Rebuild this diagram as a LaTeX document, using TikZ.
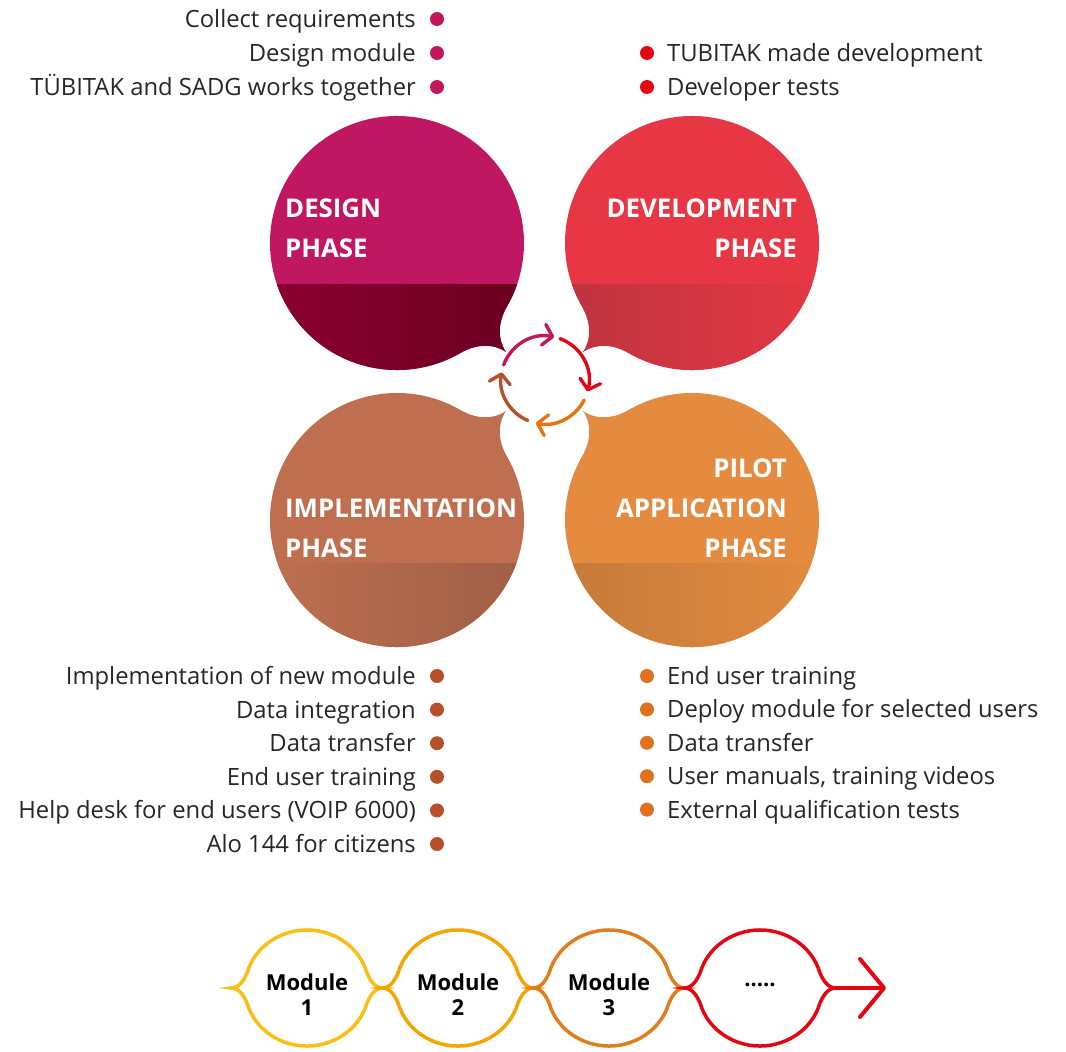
\documentclass[tikz,border=0pt]{standalone}
\usepackage{fontspec}
\setmainfont{Open Sans}
\usetikzlibrary{arrows.meta}

\definecolor{designc}{RGB}{192,23,98}
\definecolor{designlo}{RGB}{140,0,48}
\definecolor{designlo2}{RGB}{104,0,32}
\definecolor{devc}{RGB}{231,55,68}
\definecolor{devlo}{RGB}{188,52,62}
\definecolor{implc}{RGB}{191,111,80}
\definecolor{impllo}{RGB}{157,94,70}
\definecolor{pilotc}{RGB}{228,139,64}
\definecolor{pilotlo}{RGB}{196,122,58}
\definecolor{pinkc}{RGB}{194,24,91}
\definecolor{redc}{RGB}{227,6,19}
\definecolor{orangec}{RGB}{232,114,12}
\definecolor{brownc}{RGB}{181,80,42}
\definecolor{pilotdot}{RGB}{224,112,30}
\definecolor{modA}{RGB}{251,190,20}
\definecolor{modB}{RGB}{245,165,0}
\definecolor{modC}{RGB}{224,125,30}

% circle with a tail towards the middle (pointing down right)
\newcommand\blobpath{(60:127) arc[start angle=60,end angle=390,radius=127]
  .. controls (101,79) and (100,96) .. (109,109)
  .. controls (96,100) and (79,101) .. (60:127) -- cycle}
% one loop of the module chain
\newcommand\looppath{(-75.5,0) .. controls (-68,0) and (-62,-8) .. (200:62 and 58)
  arc[start angle=200,end angle=340,x radius=62,y radius=58]
  .. controls (62,-8) and (68,0) .. (75.5,0)
  .. controls (68,0) and (62,8) .. (20:62 and 58)
  arc[start angle=20,end angle=160,x radius=62,y radius=58]
  .. controls (-62,8) and (-68,0) .. (-75.5,0) -- cycle}

\begin{document}
\begin{tikzpicture}[x=1pt,y=-1pt,
    phase/.style={text=white,font=\bfseries\fontsize{25.8}{40}\selectfont,inner sep=0pt},
    item/.style={font=\fontsize{23.8}{28}\selectfont,text=black!85,inner sep=0pt},
    dot/.style={circle,inner sep=0pt,minimum size=14pt},
    ringarrow/.style={line width=3.4pt,line cap=round,-{Straight Barb[length=9pt,width=21pt,round]}},
    loopline/.style={line width=3.5pt},
    modtext/.style={font=\bfseries\fontsize{22}{25}\selectfont,align=center,inner sep=0pt}]
  \useasboundingbox (0,0) rectangle (1066,1052);

  % the four phases
  \fill[designc,shift={(397,243)}] \blobpath;
  \begin{scope}
    \clip[shift={(397,243)}] \blobpath;
    \shade[left color=designlo,right color=designlo2] (260,284) rectangle (540,390);
  \end{scope}
  \fill[devc,shift={(692,243)},xscale=-1] \blobpath;
  \begin{scope}
    \clip[shift={(692,243)},xscale=-1] \blobpath;
    \shade[left color=devlo,right color=devc] (555,284) rectangle (830,390);
  \end{scope}
  \fill[implc,shift={(397,520)},yscale=-1] \blobpath;
  \begin{scope}
    \clip[shift={(397,520)},yscale=-1] \blobpath;
    \shade[left color=implc,right color=impllo] (260,563) rectangle (540,660);
  \end{scope}
  \fill[pilotc,shift={(692,520)},xscale=-1,yscale=-1] \blobpath;
  \begin{scope}
    \clip[shift={(692,520)},xscale=-1,yscale=-1] \blobpath;
    \shade[left color=pilotlo,right color=pilotc] (555,563) rectangle (830,660);
  \end{scope}

  \node[phase,anchor=west,align=left] (design) at (285,228) {DESIGN\\PHASE};
  \node[phase,anchor=east,align=right] (develop) at (797,228) {DEVELOPMENT\\PHASE};
  \node[phase,anchor=west,align=left] (implement) at (285,528) {IMPLEMENTATION\\PHASE};
  \node[phase,anchor=east,align=right] (pilot) at (787,508) {PILOT\\APPLICATION\\PHASE};

  % cycle in the middle
  \coordinate (ring) at (545,380);
  \draw[ringarrow,pinkc] ([shift={(200:44)}]ring) arc[start angle=200,end angle=282,radius=44];
  \draw[ringarrow,redc] ([shift={(290:44)}]ring) arc[start angle=290,end angle=375,radius=44];
  \draw[ringarrow,orangec] ([shift={(27:44)}]ring) arc[start angle=27,end angle=102,radius=44];
  \draw[ringarrow,brownc] ([shift={(113:44)}]ring) arc[start angle=113,end angle=190,radius=44];

  % bullet lists
  \foreach \txt [count=\i] in {Collect requirements,Design module,TÜBITAK and SADG works together}{
    \node[dot,fill=pinkc] (ddot\i) at (437,19+34*\i-34) {};
    \node[item,anchor=base east] (ditem\i) at (416,27.5+34*\i-34) {\txt};
  }
  \foreach \txt [count=\i] in {TUBITAK made development,Developer tests}{
    \node[dot,fill=redc] (vdot\i) at (647,53+34*\i-34) {};
    \node[item,anchor=base west] (vitem\i) at (667,61.5+34*\i-34) {\txt};
  }
  \foreach \txt [count=\i] in {Implementation of new module,Data integration,Data transfer,
      End user training,{Help desk for end users (VOIP 6000)},Alo 144 for citizens}{
    \node[dot,fill=brownc] (idot\i) at (437,676+33.6*\i-33.6) {};
    \node[item,anchor=base east] (iitem\i) at (416,684.5+33.6*\i-33.6) {\txt};
  }
  \foreach \txt [count=\i] in {End user training,Deploy module for selected users,Data transfer,
      {User manuals, training videos},External qualification tests}{
    \node[dot,fill=pilotdot] (pdot\i) at (647,676+33.4*\i-33.4) {};
    \node[item,anchor=base west] (pitem\i) at (667,684.5+33.4*\i-33.4) {\txt};
  }

  % module chain
  \draw[loopline,modA,shift={(307,988)}] \looppath;
  \draw[loopline,modB,shift={(458,988)}] \looppath;
  \draw[loopline,modC,shift={(609,988)}] \looppath;
  \draw[loopline,redc,shift={(760,988)}] \looppath;
  \node[modtext] (mod1) at (307,995) {Module\\1};
  \node[modtext] (mod2) at (458,995) {Module\\2};
  \node[modtext] (mod3) at (609,995) {Module\\3};
  \node[modtext] (modn) at (760,985) {.....};
  \coordinate (neck) at (835.5,988);
  \coordinate (chainend) at (886,988);
  \draw[redc,line width=4pt,line cap=round,-{Straight Barb[length=24pt,width=58pt,round]}] (neck) -- (chainend);
\end{tikzpicture}
\end{document}
